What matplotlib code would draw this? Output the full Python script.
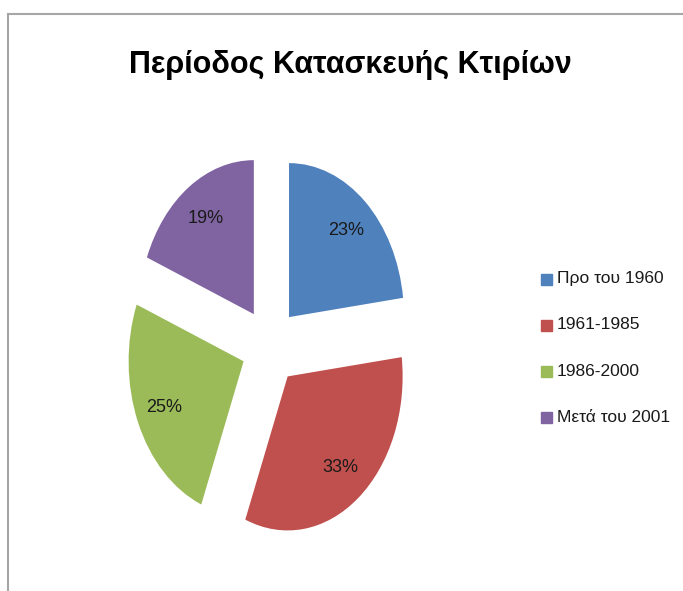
import matplotlib.pyplot as plt
from matplotlib.lines import Line2D
from matplotlib.patches import Rectangle

# Datos del grafico
categorias = ["Προ του 1960", "1961-1985", "1986-2000", "Μετά του 2001"]
porcentajes = [23, 33, 25, 19]
colores = ["#4F81BD", "#C0504D", "#9BBB59", "#8064A2"]
titulo = "Περίοδος Κατασκευής Κτιρίων"

plt.rcParams['font.family'] = ["Liberation Sans", "DejaVu Sans"]

W, H = 683, 591
fig = plt.figure(figsize=(W / 100, H / 100), dpi=100)

# Marco gris (arriba e izquierda)
fig.add_artist(Line2D([8 / W, 1], [1 - 14 / H, 1 - 14 / H], color="#A6A6A6", lw=1.5))
fig.add_artist(Line2D([8 / W, 8 / W], [0, 1 - 14 / H], color="#A6A6A6", lw=1.5))

# Ejes del pastel: elipse con radio 115 px en x y 154 px en y, centro (270, 346)
cx, cy, rx, ry = 270, 346, 115, 154
ax = fig.add_axes([(cx - 1.5 * rx) / W, (H - cy - 1.5 * ry) / H, 3 * rx / W, 3 * ry / H])
wedges, textos, autotextos = ax.pie(porcentajes, colors=colores, startangle=90, counterclock=False,
                                    explode=[0.25] * len(porcentajes),
                                    autopct="%d%%", pctdistance=0.75,
                                    textprops={"fontsize": 13, "color": "#1a1a1a"})
ax.set_aspect("auto")
ax.set_xlim(-1.5, 1.5)
ax.set_ylim(-1.5, 1.5)
ax.axis("off")

# Titulo
fig.text(350 / W, 1 - 65 / H, titulo, ha="center", va="center", fontsize=22, fontweight="bold")

# Leyenda hecha a mano
for i, (cat, col) in enumerate(zip(categorias, colores)):
    y = 279 + 46 * i
    fig.add_artist(Rectangle((541 / W, 1 - (y + 5.5) / H), 11 / W, 11 / H, color=col))
    fig.text(557 / W, 1 - y / H, cat, ha="left", va="center", fontsize=12.5, color="#1a1a1a")

fig.savefig("out.png", dpi=100)
